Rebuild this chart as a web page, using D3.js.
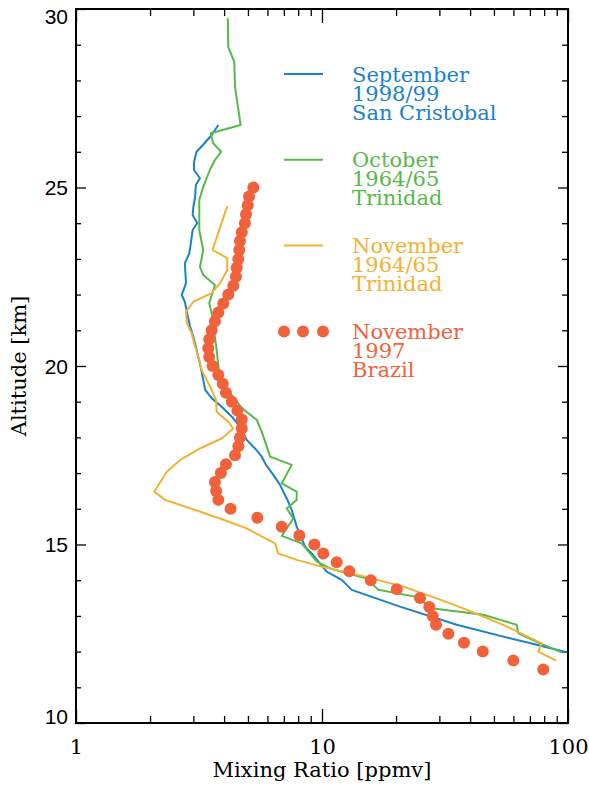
<!DOCTYPE html>
<html>
<head>
<meta charset="utf-8">
<script src="https://cdn.jsdelivr.net/npm/d3@7"></script>
<style>
  body { margin: 0; background: #fff; }
  svg { display: block; }
</style>
</head>
<body>
<svg id="chart"></svg>
<script>
// mixing ratio [ppmv], altitude [km]
const sanCristobalRatio = [3.79, 3.56, 3.28, 3.09, 3.02, 3.02, 3.19, 3.07, 3.05, 3.00, 2.98, 3.11, 2.98, 2.93, 2.89, 2.77, 2.80, 2.69, 2.77, 2.83, 2.91, 3.00, 3.09, 3.21, 3.29, 3.35, 3.56, 3.91, 4.30, 4.64, 4.94, 5.34, 5.69, 5.92, 6.34, 6.75, 7.19, 7.53, 7.89, 8.53, 9.08, 10.45, 12.03, 13.20, 20.75, 35.29, 54.58, 74.63, 98.8];
const sanCristobalAlt = [26.75, 26.47, 26.19, 26.0, 25.72, 25.49, 25.26, 25.07, 24.74, 24.46, 24.23, 24.0, 23.81, 23.44, 23.16, 22.88, 22.32, 21.99, 21.80, 21.48, 21.10, 20.82, 20.45, 19.98, 19.61, 19.33, 19.10, 18.86, 18.58, 18.30, 17.93, 17.69, 17.46, 17.23, 16.95, 16.67, 16.29, 15.97, 15.50, 14.94, 14.75, 14.24, 14.01, 13.73, 13.26, 12.75, 12.42, 12.19, 11.98];

const octTrinidadRatio = [4.14, 4.16, 4.40, 4.43, 4.67, 3.53, 3.61, 3.89, 3.67, 3.50, 3.29, 3.17, 3.17, 3.29, 3.19, 3.29, 3.67, 3.48, 3.56, 3.73, 3.85, 4.72, 5.43, 5.69, 5.87, 6.15, 7.53, 6.86, 7.89, 7.89, 7.19, 7.64, 6.86, 8.27, 9.52, 10.78, 15.20, 16.94, 23.88, 28.35, 45.27, 61.88, 62.8, 76.9, 94.3];
const octTrinidadAlt = [29.74, 28.94, 28.52, 27.82, 26.75, 26.52, 26.24, 26.0, 25.77, 25.49, 25.02, 24.65, 23.81, 23.25, 22.78, 22.55, 22.27, 21.76, 21.48, 20.45, 19.61, 18.82, 18.49, 18.16, 17.88, 17.46, 17.23, 16.71, 16.48, 16.25, 16.01, 15.73, 15.24, 15.03, 14.52, 14.33, 14.05, 13.73, 13.54, 13.21, 13.03, 12.75, 12.51, 12.23, 11.98];

const novTrinidadRatio = [4.12, 3.59, 4.12, 4.12, 3.85, 3.56, 3.00, 2.80, 2.82, 2.95, 3.05, 3.17, 3.24, 3.40, 3.56, 3.71, 3.73, 4.16, 4.36, 3.91, 3.19, 2.65, 2.34, 2.08, 2.30, 3.85, 4.94, 6.44, 6.64, 7.89, 9.97, 14.96, 21.41, 29.26, 37.53, 54.58, 78.2, 75.7, 89.4];
const novTrinidadAlt = [24.48, 23.25, 23.02, 22.69, 22.32, 22.04, 21.80, 21.52, 21.20, 20.92, 20.54, 20.17, 19.89, 19.61, 19.33, 19.05, 18.72, 18.44, 18.25, 17.97, 17.69, 17.37, 17.04, 16.48, 16.25, 15.73, 15.45, 15.03, 14.75, 14.57, 14.38, 14.10, 13.82, 13.49, 13.21, 12.75, 12.23, 12.0, 11.75];

const brazilRatio = [5.26, 5.05, 4.99, 4.91, 4.86, 4.72, 4.64, 4.61, 4.57, 4.50, 4.47, 4.36, 4.16, 3.97, 3.79, 3.67, 3.56, 3.48, 3.45, 3.48, 3.59, 3.79, 3.95, 4.07, 4.30, 4.53, 4.72, 4.72, 4.64, 4.57, 4.43, 4.07, 3.88, 3.67, 3.71, 3.79, 4.25, 5.46, 6.86, 8.09, 9.31, 10.12, 11.48, 12.91, 15.78, 20.13, 25.02, 27.30, 28.18, 29.07, 32.62, 37.77, 45.02, 59.94, 79.35];
const brazilAlt = [25.0, 24.75, 24.5, 24.25, 24.0, 23.75, 23.5, 23.25, 23.0, 22.75, 22.5, 22.25, 22.0, 21.75, 21.5, 21.25, 21.0, 20.75, 20.5, 20.25, 20.0, 19.75, 19.5, 19.25, 19.0, 18.75, 18.5, 18.25, 18.0, 17.75, 17.5, 17.25, 17.0, 16.75, 16.5, 16.25, 16.0, 15.75, 15.5, 15.25, 15.0, 14.75, 14.5, 14.25, 14.0, 13.75, 13.5, 13.25, 13.0, 12.75, 12.5, 12.25, 12.0, 11.75, 11.5];

const legendLines = [
  ["September", "1998/99", "San Cristobal"],
  ["October", "1964/65", "Trinidad"],
  ["November", "1964/65", "Trinidad"],
  ["November", "1997", "Brazil"]
];

const xMajorTicks = [1, 10, 100];
const xMinorTicks = [2, 3, 4, 5, 6, 7, 8, 9, 20, 30, 40, 50, 60, 70, 80, 90];
const yMajorTicks = [10, 15, 20, 25, 30];
const yMinorTicks = [11, 12, 13, 14, 16, 17, 18, 19, 21, 22, 23, 24, 26, 27, 28, 29];

const colors = ["#1b82c8", "#58b94b", "#f1b233", "#f1623b"];
const serif = "DejaVu Serif, serif";

const width = 589, height = 789;
const margin = { top: 9, right: 21, bottom: 66, left: 76 };
const w = width - margin.left - margin.right;
const h = height - margin.top - margin.bottom;

const svg = d3.select("#chart").attr("width", width).attr("height", height);
const g = svg.append("g").attr("transform", `translate(${margin.left},${margin.top})`);

const x = d3.scaleLog().domain([1, 100]).range([0, w]);
const y = d3.scaleLinear().domain([10, 30]).range([h, 0]);

// ticks point inward on all four sides
function tickAxis(axis, vals, size, fmt) {
  return axis.tickValues(vals).tickSize(-size).tickFormat(fmt || "");
}
const bottomMajor = g.append("g").attr("transform", `translate(0,${h})`)
  .call(tickAxis(d3.axisBottom(x), xMajorTicks, 14, d3.format("d")).tickPadding(16));
g.append("g").attr("transform", `translate(0,${h})`).call(tickAxis(d3.axisBottom(x), xMinorTicks, 7));
g.append("g").call(tickAxis(d3.axisTop(x), xMajorTicks, 14));
g.append("g").call(tickAxis(d3.axisTop(x), xMinorTicks, 7));
const leftMajor = g.append("g")
  .call(tickAxis(d3.axisLeft(y), yMajorTicks, 10, d3.format("d")).tickPadding(8));
g.append("g").call(tickAxis(d3.axisLeft(y), yMinorTicks, 5));
g.append("g").attr("transform", `translate(${w},0)`).call(tickAxis(d3.axisRight(y), yMajorTicks, 10));
g.append("g").attr("transform", `translate(${w},0)`).call(tickAxis(d3.axisRight(y), yMinorTicks, 6));

g.selectAll(".domain").remove();
g.selectAll(".tick line").attr("stroke", "#000").attr("stroke-width", 1.3);

bottomMajor.selectAll("text")
  .attr("font-family", serif).attr("font-size", 21).attr("fill", "#000");
leftMajor.selectAll("text")
  .attr("font-family", "Liberation Sans, Arial, sans-serif").attr("font-size", 21).attr("fill", "#000")
  .attr("dy", d => d === 30 ? "0.68em" : d === 10 ? "0" : "0.34em");

g.append("rect").attr("width", w).attr("height", h)
  .attr("fill", "none").attr("stroke", "#000").attr("stroke-width", 2);

// axis titles
svg.append("text")
  .attr("x", margin.left + w / 2).attr("y", 777)
  .attr("text-anchor", "middle")
  .attr("font-family", serif).attr("font-size", 21)
  .text("Mixing Ratio [ppmv]");
svg.append("text")
  .attr("transform", `translate(26,${margin.top + h / 2}) rotate(-90)`)
  .attr("text-anchor", "middle")
  .attr("font-family", serif).attr("font-size", 21)
  .text("Altitude [km]");

// profiles
const line = d3.line().x(d => x(d[0])).y(d => y(d[1]));
const profiles = [
  d3.zip(sanCristobalRatio, sanCristobalAlt),
  d3.zip(octTrinidadRatio, octTrinidadAlt),
  d3.zip(novTrinidadRatio, novTrinidadAlt)
];
g.selectAll("path.profile").data(profiles).enter()
  .append("path").attr("class", "profile")
  .attr("d", line)
  .attr("fill", "none")
  .attr("stroke", (d, i) => colors[i])
  .attr("stroke-width", 2)
  .attr("stroke-linejoin", "round");

g.selectAll("circle.brazil").data(d3.zip(brazilRatio, brazilAlt)).enter()
  .append("circle").attr("class", "brazil")
  .attr("cx", d => x(d[0])).attr("cy", d => y(d[1]))
  .attr("r", 6).attr("fill", colors[3]);

// legend
const legend = svg.append("g").attr("transform", "translate(284,74)");
const entry = legend.selectAll("g").data(legendLines).enter()
  .append("g").attr("transform", (d, i) => `translate(0,${i * 85.8})`);
entry.each(function (d, i) {
  const e = d3.select(this);
  if (i < 3) {
    e.append("line").attr("x1", 0).attr("x2", 39).attr("y1", 0).attr("y2", 0)
      .attr("stroke", colors[i]).attr("stroke-width", 2);
  } else {
    e.selectAll("circle").data([0, 19, 39]).enter().append("circle")
      .attr("cx", c => c).attr("cy", 0).attr("r", 6).attr("fill", colors[i]);
  }
  const t = e.append("text")
    .attr("font-family", serif).attr("font-size", 21)
    .attr("fill", colors[i]);
  t.selectAll("tspan").data(d).enter().append("tspan")
    .attr("x", 68).attr("y", (s, k) => 7.5 + k * 19)
    .text(s => s);
});
</script>
</body>
</html>
